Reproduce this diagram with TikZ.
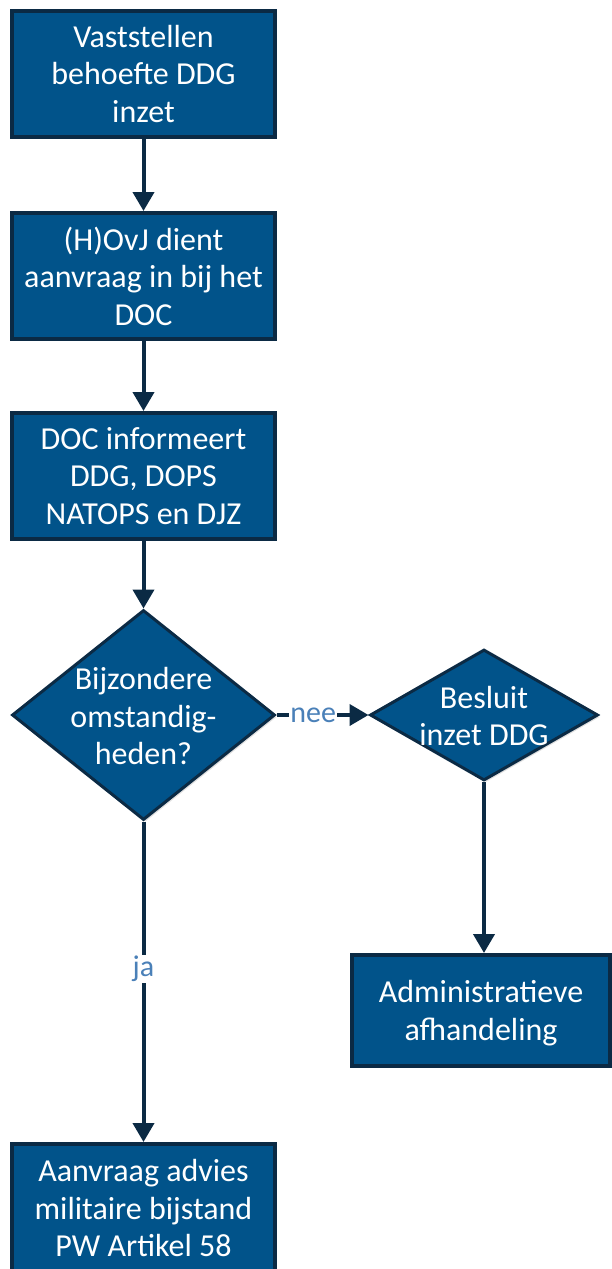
\documentclass[tikz,border=0pt]{standalone}
\usepackage{fontspec}
\setmainfont{Carlito}
\usetikzlibrary{arrows.meta,shapes.geometric,shadows}
\definecolor{boxfill}{HTML}{01538A}
\definecolor{boxline}{HTML}{0B2A44}
\definecolor{lbl}{HTML}{4A80B8}
\tikzset{
  x=1pt,y=-1pt,
  stepbox/.style={draw=boxline,line width=4pt,fill=boxfill,rectangle,inner sep=0pt,
    drop shadow={shadow xshift=2pt,shadow yshift=-2pt,opacity=0.25}},
  decbox/.style={draw=boxline,line width=3pt,fill=boxfill,diamond,inner sep=0pt,
    drop shadow={shadow xshift=2pt,shadow yshift=-2pt,opacity=0.25}},
  txt/.style={text=white,align=center,font=\fontsize{32}{37.5}\selectfont,inner sep=0pt},
  conn/.style={draw=boxline,line width=4pt,-{Triangle[length=19pt,width=21pt]}},
  lab/.style={text=lbl,fill=white,font=\fontsize{30}{34}\selectfont,inner sep=1pt}
}
\begin{document}
\begin{tikzpicture}
\useasboundingbox (0,0) rectangle (612,1269);
\clip (0,0) rectangle (612,1269);
\node[stepbox,minimum width=263pt,minimum height=126pt] (b1) at (143.5,74) {};
\node[txt] at (b1) {Vaststellen\\behoefte DDG\\inzet};
\node[stepbox,minimum width=263pt,minimum height=126pt] (b2) at (143.5,276) {};
\node[txt] at (b2) {(H)OvJ dient\\aanvraag in bij het\\DOC};
\node[stepbox,minimum width=263pt,minimum height=126pt] (b3) at (143.5,476) {};
\node[txt] at (b3) {DOC informeert\\DDG, DOPS\\NATOPS en DJZ};
\node[decbox,minimum width=263pt,minimum height=210pt] (d1) at (143.5,715) {};
\node[txt] at (143.5,716) {Bijzondere\\omstandig-\\heden?};
\node[decbox,minimum width=228pt,minimum height=131pt] (d2) at (484,715) {};
\node[txt] at (484,716) {Besluit\\inzet DDG};
\node[stepbox,minimum width=258pt,minimum height=111pt] (b4) at (481,1010.5) {};
\node[txt] at (481,1013) {Administratieve\\afhandeling};
\node[stepbox,minimum width=263pt,minimum height=128pt] (b5) at (143.5,1208) {};
\node[txt] at (143.5,1208) {Aanvraag advies\\militaire bijstand\\PW Artikel 58};
\draw[conn] (b1.south) -- (b2.north);
\draw[conn] (b2.south) -- (b3.north);
\draw[conn] (b3.south) -- (d1.north);
\draw[conn] (d1.east) -- node[lab,pos=0.4] (nee) {nee} (d2.west);
\draw[conn] (d2.south) -- (d2.south |- b4.north);
\draw[conn] (d1.south) -- node[lab,pos=0.46] (ja) {ja} (b5.north);
\end{tikzpicture}
\end{document}
